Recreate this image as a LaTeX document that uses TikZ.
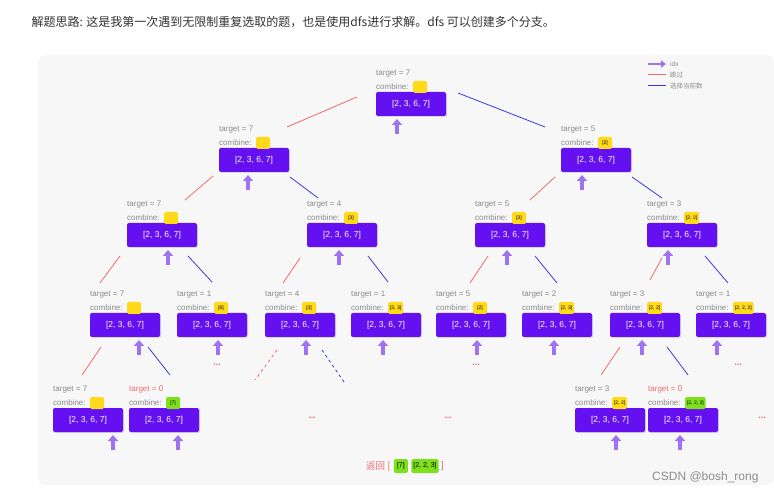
\documentclass[tikz,border=0pt]{standalone}
\usepackage{fontspec}
\setmainfont{Liberation Sans}
\newfontfamily\cjk{Noto Sans CJK SC}
\usetikzlibrary{calc,arrows.meta,shadows}
\definecolor{boxv}{HTML}{6410F0}
\definecolor{idxc}{HTML}{9E72F0}
\definecolor{skipc}{HTML}{F26B6B}
\definecolor{selc}{HTML}{3A3AD8}
\definecolor{yel}{HTML}{FFD91A}
\definecolor{grn}{HTML}{7EE01A}
\definecolor{lab}{HTML}{8A8A8A}
\tikzset{
 arr/.style={boxv, fill=boxv, rounded corners=2pt, minimum width=70pt, minimum height=24pt, text=white, font=\fontsize{8.5}{9}\selectfont, drop shadow={opacity=0.25,shadow xshift=1pt,shadow yshift=-1pt}},
 lbl/.style={anchor=west, text=lab, font=\fontsize{8}{9}\selectfont, inner sep=0pt},
 ytag/.style={fill=yel, rounded corners=1.5pt, font=\fontsize{5}{6}\selectfont, inner sep=2pt, minimum height=12pt, minimum width=14pt, anchor=west},
 gtag/.style={ytag, fill=grn},
 idx/.style={idxc, line width=3.5pt, -{Triangle[length=6pt,width=10pt]}},
 skip/.style={skipc, line width=0.8pt},
 sel/.style={selc, line width=0.8pt},
 dots/.style={text=skipc, font=\bfseries\fontsize{9}{9}\selectfont},
}
\newcommand{\tnode}[6]{%
 \node[arr] (#1) at (#2,#3) {[2, 3, 6, 7]};
 \node[lbl] (#1t) at ($(#1)+(-35,-30)$) {target = #4};
 \node[lbl] (#1c) at ($(#1)+(-35,-17)$) {combine:};
 \node[#5] (#1g) at ($(#1c.east)+(4,0)$) {#6};
}
\newcommand{\idxarrow}[2]{\draw[idx] ($(#1)+(#2,30)$) -- ($(#1)+(#2,15)$);}
\begin{document}
\begin{tikzpicture}[x=1pt,y=-1pt]
\useasboundingbox (0,0) rectangle (774,494);
\fill[white] (0,0) rectangle (774,494);
\fill[black!3, rounded corners=8pt] (38,55) rectangle (774,485);
\node[anchor=west, font=\cjk\fontsize{12}{14}\selectfont, text=black!80] (title) at (28,22) {解题思路: 这是我第一次遇到无限制重复选取的题，也是使用dfs进行求解。dfs 可以创建多个分支。};
% legend
\draw[idx, line width=2.5pt, -{Triangle[length=5pt,width=7pt]}] (648,64) -- (666,64);
\node[lbl, font=\fontsize{6.5}{7}\selectfont] (l1) at (670,64) {idx};
\draw[skip, line width=1pt] (648,75) -- (666,75);
\node[lbl, font=\cjk\fontsize{6.5}{7}\selectfont] (l2) at (670,75) {跳过};
\draw[sel, line width=1pt] (648,86) -- (666,86);
\node[lbl, font=\cjk\fontsize{6.5}{7}\selectfont] (l3) at (670,86) {选择当前数};
% nodes
\tnode{r}{411}{104}{7}{ytag}{}
\tnode{a}{254}{160}{7}{ytag}{}
\tnode{b}{596}{160}{5}{ytag}{[2]}
\tnode{aa}{162}{235}{7}{ytag}{}
\tnode{ab}{342}{235}{4}{ytag}{[3]}
\tnode{ba}{510}{235}{5}{ytag}{[2]}
\tnode{bb}{682}{235}{3}{ytag}{[2, 2]}
\tnode{c1}{125}{325}{7}{ytag}{}
\tnode{c2}{212}{325}{1}{ytag}{[6]}
\tnode{c3}{300}{325}{4}{ytag}{[3]}
\tnode{c4}{386}{325}{1}{ytag}{[3, 3]}
\tnode{c5}{471}{325}{5}{ytag}{[2]}
\tnode{c6}{557}{325}{2}{ytag}{[2, 3]}
\tnode{c7}{645}{325}{3}{ytag}{[2, 2]}
\tnode{c8}{731}{325}{1}{ytag}{[2, 2, 2]}
\tnode{d1}{88}{420}{7}{ytag}{}
\tnode{d2}{164}{420}{0}{gtag}{[7]}
\tnode{d3}{610}{420}{3}{ytag}{[2, 2]}
\tnode{d4}{683}{420}{0}{gtag}{[2, 2, 3]}
\fill[black!3] (d2t.north west) rectangle (d2t.south east);
\fill[black!3] (d4t.north west) rectangle (d4t.south east);
\node[lbl, text=skipc] at (d2t.west) {target = 0};
\node[lbl, text=skipc] at (d4t.west) {target = 0};
% idx arrows
\idxarrow{r}{-14}
\idxarrow{a}{-6} \idxarrow{b}{-14}
\idxarrow{aa}{6} \idxarrow{ab}{-3} \idxarrow{ba}{-3} \idxarrow{bb}{-14}
\idxarrow{c1}{14} \idxarrow{c2}{6} \idxarrow{c3}{6} \idxarrow{c4}{-3}
\idxarrow{c5}{6} \idxarrow{c6}{-3} \idxarrow{c7}{-3} \idxarrow{c8}{-14}
\idxarrow{d1}{25} \idxarrow{d2}{14} \idxarrow{d3}{6} \idxarrow{d4}{-3}
% connectors
\draw[skip] ($(r)+(-54,-7)$) -- ($(a)+(33,-33)$);
\draw[sel] ($(r)+(47,-11)$) -- ($(b)+(-51,-33)$);
\draw[skip] ($(a)+(-41,16)$) -- ($(aa)+(23,-35)$);
\draw[sel] ($(a)+(36,17)$) -- ($(ab)+(-24,-37)$);
\draw[skip] ($(b)+(-41,17)$) -- ($(ba)+(20,-35)$);
\draw[sel] ($(b)+(36,17)$) -- ($(bb)+(-20,-37)$);
\draw[skip] ($(aa)+(-42,21)$) -- ($(c1)+(-25,-42)$);
\draw[sel] ($(aa)+(26,21)$) -- ($(c2)+(0,-43)$);
\draw[skip] ($(ab)+(-42,23)$) -- ($(c3)+(-17,-42)$);
\draw[sel] ($(ab)+(26,21)$) -- ($(c4)+(2,-43)$);
\draw[skip] ($(ba)+(-22,21)$) -- ($(c5)+(-1,-42)$);
\draw[sel] ($(ba)+(25,21)$) -- ($(c6)+(0,-42)$);
\draw[skip] ($(bb)+(-20,23)$) -- ($(c7)+(5,-45)$);
\draw[sel] ($(bb)+(23,21)$) -- ($(c8)+(-3,-42)$);
\draw[skip] ($(c1)+(-24,22)$) -- ($(d1)+(-6,-45)$);
\draw[sel] ($(c1)+(23,22)$) -- ($(d2)+(6,-45)$);
\draw[skip,dashed] ($(c3)+(-23,25)$) -- ($(c3)+(-45,55)$);
\draw[sel,dashed] ($(c3)+(22,25)$) -- ($(c3)+(44,57)$);
\draw[skip] ($(c7)+(-25,22)$) -- ($(d3)+(-9,-45)$);
\draw[sel] ($(c7)+(22,22)$) -- ($(d4)+(5,-45)$);
% dots
\node[dots] (e1) at (217,365) {...};
\node[dots] (e2) at (476,365) {...};
\node[dots] (e3) at (738,365) {...};
\node[dots] (e4) at (312,418) {...};
\node[dots] (e5) at (448,418) {...};
\node[dots] (e6) at (762,418) {...};
% result
\node[anchor=west, text=skipc, font=\cjk\fontsize{9.5}{10}\selectfont, inner sep=0pt] (ret) at (366,466) {返回 [};
\node[gtag, font=\fontsize{7}{8}\selectfont, minimum height=14pt] (g1) at ($(ret.east)+(3,0)$) {[7]};
\node[gtag, font=\fontsize{7}{8}\selectfont, minimum height=14pt] (g2) at ($(g1.east)+(3,0)$) {[2, 2, 3]};
\node[anchor=west, text=skipc, font=\fontsize{9.5}{10}\selectfont, inner sep=0pt] (rb) at ($(g2.east)+(2,0)$) {]};
\node[anchor=east, text=black!45, font=\fontsize{12}{14}\selectfont] (wm) at (762,477) {CSDN @bosh\_rong};
\end{tikzpicture}
\end{document}
